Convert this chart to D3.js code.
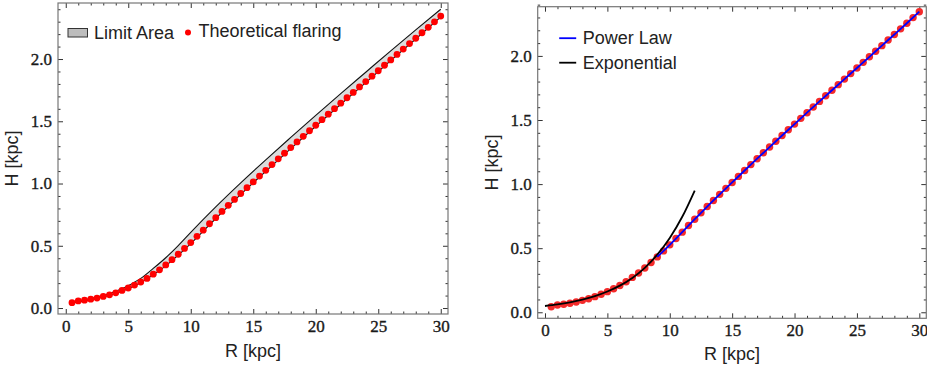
<!DOCTYPE html>
<html>
<head>
<meta charset="utf-8">
<script src="https://cdn.jsdelivr.net/npm/d3@7"></script>
<style>
    body { margin: 0; background: #fff; }
    svg { display: block; }
</style>
</head>
<body>
<div id="chart"></div>
<script>
// theoretical flaring, R = 0.5 ... 30 step 0.5
var flareR = d3.range(1, 61).map((i) => i * 0.5);
var flareH = [
    0.043, 0.057, 0.063, 0.071, 0.080, 0.093, 0.106, 0.122, 0.141, 0.161,
    0.184, 0.209, 0.238, 0.272, 0.307, 0.346, 0.388, 0.432, 0.479, 0.526,
    0.576, 0.625, 0.677, 0.726, 0.776, 0.825, 0.872, 0.920, 0.967, 1.013,
    1.060, 1.106, 1.152, 1.198, 1.244, 1.289, 1.334, 1.379, 1.424, 1.468,
    1.513, 1.557, 1.601, 1.645, 1.689, 1.732, 1.776, 1.819, 1.862, 1.906,
    1.950, 1.993, 2.037, 2.080, 2.124, 2.167, 2.211, 2.255, 2.299, 2.345,
];

// limit area boundaries
var limitR = [0.5, 2, 4, 5, 6, 7, 8, 9, 10, 12, 14, 16, 18, 20, 22, 24, 26, 28, 30];
var limitUpper = [0.047, 0.076, 0.134, 0.18, 0.238, 0.318, 0.404, 0.502, 0.608, 0.812, 1.005, 1.19, 1.37, 1.548, 1.722, 1.894, 2.066, 2.234, 2.4];
var limitLower = [0.040, 0.067, 0.117, 0.155, 0.203, 0.266, 0.339, 0.425, 0.518, 0.719, 0.913, 1.098, 1.281, 1.46, 1.637, 1.81, 1.988, 2.161, 2.338];

// fits on the right panel
var powerR = [9, 10, 11, 12, 13, 14, 15, 16, 17, 18, 19, 20, 21, 22, 23, 24, 25, 26, 27, 28, 29, 30];
var powerH = [0.432, 0.526, 0.625, 0.726, 0.825, 0.920, 1.013, 1.106, 1.198, 1.289, 1.379,
    1.468, 1.557, 1.645, 1.732, 1.819, 1.906, 1.993, 2.080, 2.167, 2.255, 2.345];
var expR = [0, 1, 2, 3, 4, 5, 6, 7, 8, 9, 10, 11, 12];
var expH = [0.049, 0.061, 0.077, 0.098, 0.126, 0.162, 0.208, 0.268, 0.347, 0.45, 0.58, 0.745, 0.95];

var xMajor = [0, 5, 10, 15, 20, 25, 30];
var yMajor = [0, 0.5, 1, 1.5, 2];
var xMinor = d3.range(0, 31).filter((v) => v % 5 !== 0);
var yMinor = d3.range(0, 25).map((v) => v / 10).filter((v) => Math.round(v * 10) % 5 !== 0);

var serif = '"Liberation Serif", "Times New Roman", serif';
var sans = '"Liberation Sans", Arial, sans-serif';

var svg = d3.select("#chart").append("svg").attr("width", 927).attr("height", 368);

function label(g) {
    return g.append("text")
        .attr("font-family", sans)
        .attr("font-size", 18)
        .attr("fill", "#222");
}

function makePanel(box) {
    var g = svg.append("g").attr("transform", "translate(" + box.left + "," + box.top + ")");
    var w = box.width, h = box.height;
    var x = d3.scaleLinear().domain(box.xDomain).range([0, w]);
    var y = d3.scaleLinear().domain(box.yDomain).range([h, 0]);

    var fx = d3.format("d"), fy = d3.format(".1f");
    var sides = [
        [d3.axisBottom, x, "translate(0," + h + ")", xMajor, xMinor, fx, true],
        [d3.axisTop, x, "translate(0,0)", xMajor, xMinor, fx, false],
        [d3.axisLeft, y, "translate(0,0)", yMajor, yMinor, fy, true],
        [d3.axisRight, y, "translate(" + w + ",0)", yMajor, yMinor, fy, false],
    ];
    sides.forEach((s) => {
        [[s[3], 5, s[6]], [s[4], 2.5, false]].forEach((t) => {
            var axis = s[0](s[1])
                .tickValues(t[0])
                .tickSizeInner(-t[1])
                .tickSizeOuter(0)
                .tickPadding(t[2] ? 6 : 0)
                .tickFormat(t[2] ? s[5] : () => "");
            var ga = g.append("g").attr("transform", s[2]).call(axis);
            ga.select(".domain").remove();
            ga.selectAll("line").attr("stroke", "#333");
            ga.attr("font-family", serif).attr("font-size", 17);
            ga.selectAll("text")
                .attr("fill", "#1a1a1a")
                .attr("stroke", "#1a1a1a")
                .attr("stroke-width", 0.35);
        });
    });

    g.append("rect")
        .attr("width", w)
        .attr("height", h)
        .attr("fill", "none")
        .attr("stroke", "#777")
        .attr("stroke-width", 1.2);

    label(g)
        .attr("x", w / 2)
        .attr("y", h + box.xLabelDy)
        .attr("text-anchor", "middle")
        .text("R [kpc]");
    label(g)
        .attr("transform", "translate(" + box.yLabelDx + "," + h / 2 + ") rotate(-90)")
        .attr("text-anchor", "middle")
        .text("H [kpc]");

    return { g: g, x: x, y: y };
}

function drawDots(p, color, r) {
    p.g.append("g")
        .selectAll("circle")
        .data(flareR)
        .enter()
        .append("circle")
        .attr("cx", (d) => p.x(d))
        .attr("cy", (d, i) => p.y(flareH[i]))
        .attr("r", r)
        .attr("fill", color);
}

// left panel
var left = makePanel({
    left: 58, top: 3, width: 390, height: 311,
    xDomain: [-0.62, 30.58], yDomain: [-0.048, 2.45],
    xLabelDy: 43, yLabelDx: -40,
});

var limitPts = limitR.map((r, i) => ({ r: r, lo: limitLower[i], hi: limitUpper[i] }));
left.g.append("path")
    .datum(limitPts)
    .attr("fill", "#dcdcdc")
    .attr("d", d3.area().curve(d3.curveMonotoneX).x((d) => left.x(d.r)).y0((d) => left.y(d.lo)).y1((d) => left.y(d.hi)));
["hi", "lo"].forEach((k) => {
    left.g.append("path")
        .datum(limitPts)
        .attr("fill", "none")
        .attr("stroke", "#111")
        .attr("stroke-width", 1.1)
        .attr("d", d3.line().curve(d3.curveMonotoneX).x((d) => left.x(d.r)).y((d) => left.y(d[k])));
});
drawDots(left, "#ff0000", 3.4);

// left legend
var lg = left.g.append("g");
lg.append("rect").attr("x", 10).attr("y", 25.5).attr("width", 19.5).attr("height", 8.5)
    .attr("fill", "#bdbdbd").attr("stroke", "#333").attr("stroke-width", 1);
label(lg).attr("x", 36).attr("y", 36).text("Limit Area");
lg.append("circle").attr("cx", 130).attr("cy", 29.5).attr("r", 3).attr("fill", "#ff0000");
label(lg).attr("x", 140.5).attr("y", 34).text("Theoretical flaring");

// right panel
var right = makePanel({
    left: 537.7, top: 6.7, width: 388.6, height: 311.6,
    xDomain: [-0.585, 30.56], yDomain: [-0.047, 2.384],
    xLabelDy: 42, yLabelDx: -40,
});
drawDots(right, "#f42a2a", 3.7);

right.g.append("path")
    .datum(expR)
    .attr("fill", "none")
    .attr("stroke", "#000")
    .attr("stroke-width", 1.8)
    .attr("d", d3.line().curve(d3.curveMonotoneX).x((d) => right.x(d)).y((d, i) => right.y(expH[i])));
right.g.append("path")
    .datum(powerR)
    .attr("fill", "none")
    .attr("stroke", "#0000ff")
    .attr("stroke-width", 1.8)
    .attr("d", d3.line().curve(d3.curveMonotoneX).x((d) => right.x(d)).y((d, i) => right.y(powerH[i])));

// right legend
var rg = right.g.append("g");
[["Power Law", "#0000ff"], ["Exponential", "#000"]].forEach((d, i) => {
    rg.append("line").attr("x1", 21.5).attr("x2", 38.5)
        .attr("y1", 31.5 + i * 24.5).attr("y2", 31.5 + i * 24.5)
        .attr("stroke", d[1]).attr("stroke-width", 1.8);
    label(rg).attr("x", 45).attr("y", 37.5 + i * 24.5).text(d[0]);
});
</script>
</body>
</html>
